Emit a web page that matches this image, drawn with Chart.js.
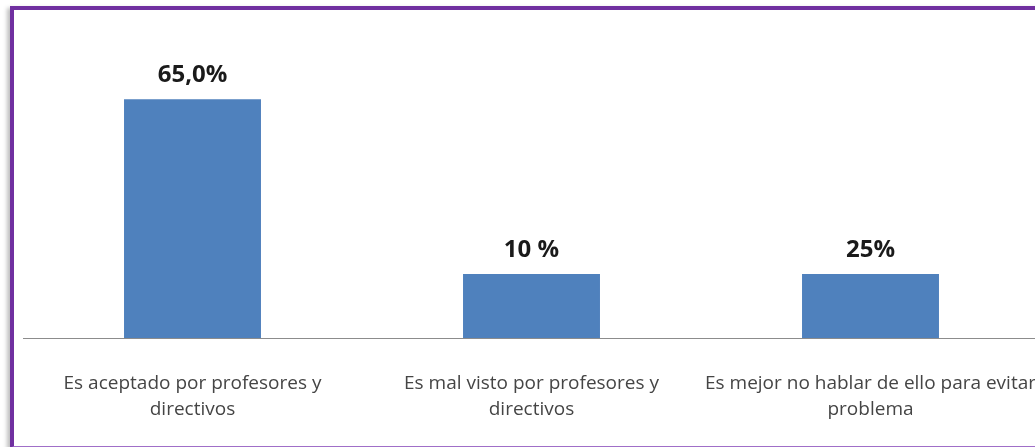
<!DOCTYPE html>
<html>
<head>
<meta charset="utf-8">
<script src="https://cdn.jsdelivr.net/npm/chart.js@4"></script>
<style>
  html, body { margin: 0; padding: 0; width: 1035px; height: 447px; overflow: hidden; background: #fff; }
  #marco {
    position: absolute; left: 10px; top: 6px; width: 1100px; height: 436px;
    border-left: 4px solid #7030a0; border-top: 4px solid #7030a0; border-bottom: 2px solid #a06fc8;
    box-shadow: -3px 2px 4px rgba(0,0,0,0.25);
  }
  #caja { position: absolute; left: 0; top: 0; width: 1060px; height: 447px; }
</style>
</head>
<body>
<div id="marco"></div>
<div id="caja"><canvas id="grafico"></canvas></div>
<script>
// Datos del gráfico
const categorias = [
  ["Es aceptado por profesores y", "directivos"],
  ["Es mal visto por profesores y", "directivos"],
  ["Es mejor no hablar de ello para evitar", "problema"]
];
// altura dibujada de cada barra (las dos últimas aparecen iguales en la imagen)
const valores = [65, 17.4, 17.4];
const etiquetas = ["65,0%", "10 %", "25%"];

// Etiquetas encima de las barras
const etiquetasPlugin = {
  id: "etiquetas",
  afterDatasetsDraw(chart) {
    const ctx = chart.ctx;
    const meta = chart.getDatasetMeta(0);
    ctx.save();
    ctx.font = "bold 24px 'Open Sans', sans-serif";
    ctx.fillStyle = "#1a1a1a";
    ctx.textAlign = "center";
    ctx.textBaseline = "middle";
    meta.data.forEach(function(barra, i) {
      ctx.fillText(etiquetas[i], barra.x, barra.y - 24);
    });
    ctx.restore();
  }
};

const config = {
  type: "bar",
  data: {
    labels: categorias,
    datasets: [{
      data: valores,
      backgroundColor: "#4f81bd",
      borderWidth: 0,
      categoryPercentage: 1,
      barPercentage: 0.404
    }]
  },
  options: {
    responsive: true,
    maintainAspectRatio: false,
    animation: false,
    layout: { padding: { left: 23, right: 20, top: 44, bottom: 0 } },
    plugins: { legend: { display: false }, tooltip: { enabled: false } },
    scales: {
      x: {
        grid: { display: false },
        border: { display: true, color: "#8c8c8c", width: 1 },
        ticks: {
          maxRotation: 0,
          autoSkip: false,
          padding: 25,
          color: "#454545",
          font: { family: "'Open Sans', sans-serif", size: 19, lineHeight: 1.37 }
        },
        afterFit(scale) {
          scale.height = 109;
          scale.paddingLeft = 0;
          scale.paddingRight = 0;
        }
      },
      y: { display: false, min: 0, max: 80 }
    }
  },
  plugins: [etiquetasPlugin]
};

// Crear el gráfico
var miGrafico = new Chart(document.getElementById("grafico"), config);
</script>
</body>
</html>
